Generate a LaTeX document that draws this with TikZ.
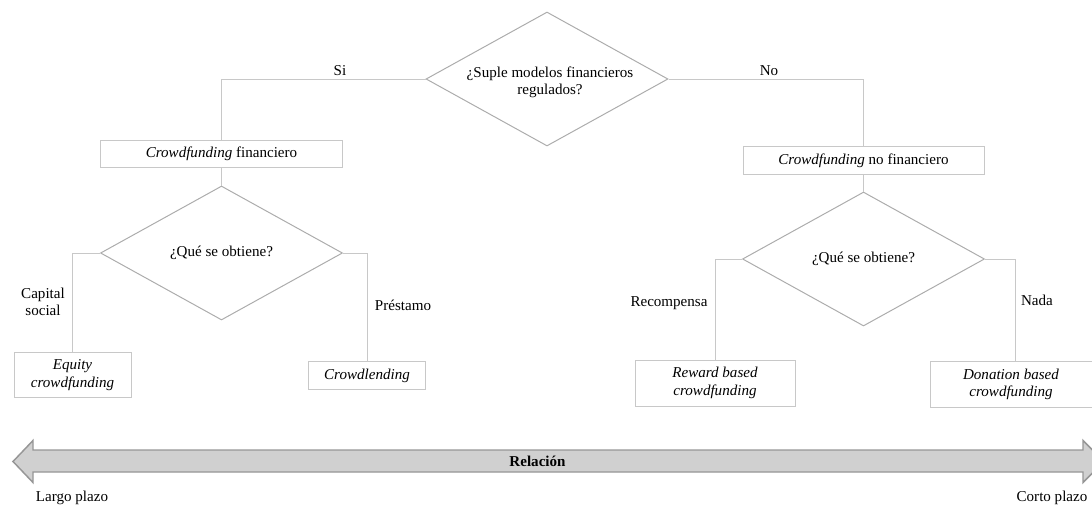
\documentclass[tikz,border=0pt]{standalone}
\usepackage{fontspec}
\setmainfont{Liberation Serif}
\usetikzlibrary{shapes.geometric}
\definecolor{edgegray}{RGB}{172,172,172}
\definecolor{boxgray}{RGB}{200,200,200}
\definecolor{arrowfill}{RGB}{208,208,208}
\definecolor{arrowedge}{RGB}{150,150,150}
\begin{document}
\begin{tikzpicture}[x=0.75pt,y=-0.75pt,
  font=\fontsize{11.3}{13}\selectfont,
  decision/.style={diamond, draw=edgegray, line width=0.75pt, aspect=1.8,
    inner sep=0pt, minimum width=181.5pt, minimum height=100.5pt, align=center},
  outcome/.style={rectangle, draw=boxgray, line width=0.75pt, inner sep=0pt,
    align=center},
  branch/.style={draw=boxgray, line width=0.75pt},
  tag/.style={inner sep=0pt, align=center},
  axisarrow/.style={draw=arrowedge, fill=arrowfill, line width=1.1pt, line join=miter}]

\useasboundingbox (0,0) rectangle (1092,504);
\clip (0,0) rectangle (1092,504);

% top question
\node[decision] (q1) at (547,79) {};
\node[tag] (q1text) at (550,82) {¿Suple modelos financieros\\regulados?};
\node[tag] (si) at (340,71) {Si};
\node[tag] (no) at (769,71) {No};

% financial branch
\node[outcome, minimum width=181.5pt, minimum height=20.25pt] (fin) at (221.5,153.5)
  {\textit{Crowdfunding} financiero};
\node[decision] (q2) at (221.5,253) {¿Qué se obtiene?};
\node[outcome, minimum width=87.75pt, minimum height=33.75pt] (equity) at (72.5,375)
  {\textit{Equity}\\\textit{crowdfunding}};
\node[outcome, minimum width=88.1pt, minimum height=20.7pt] (lend) at (367,375.5)
  {\textit{Crowdlending}};
\node[tag] (capital) at (43,302) {Capital\\social};
\node[tag] (prestamo) at (403,305) {Préstamo};

% non-financial branch
\node[outcome, minimum width=180.75pt, minimum height=20.7pt] (nofin) at (863.5,160.5)
  {\textit{Crowdfunding} no financiero};
\node[decision] (q3) at (863.5,259) {¿Qué se obtiene?};
\node[outcome, minimum width=120pt, minimum height=34.5pt] (reward) at (715,383)
  {\textit{Reward based}\\\textit{crowdfunding}};
\node[outcome, minimum width=121.5pt, minimum height=34.2pt] (donation) at (1011,384.5)
  {\textit{Donation based}\\\textit{crowdfunding}};
\node[tag] (recompensa) at (669,303) {Recompensa};
\node[tag] (nada) at (1037,300) {Nada};

% connectors
\draw[branch] (q1.west) -| (fin.north);
\draw[branch] (q1.east) -| (nofin.north);
\draw[branch] (fin.south) -- (q2.north);
\draw[branch] (nofin.south) -- (q3.north);
\draw[branch] (q2.west) -| (equity.north);
\draw[branch] (q2.east) -| (lend.north);
\draw[branch] (q3.west) -| (reward.north);
\draw[branch] (q3.east) -| ([xshift=3pt]donation.north);

% relationship axis
\draw[axisarrow] (13,461.5) -- (33,440.5) -- (33,450) -- (1083,450) -- (1083,440.5)
  -- (1104,461.5) -- (1083,482.5) -- (1083,472) -- (33,472) -- (33,482.5) -- cycle;
\node[tag, font=\fontsize{11.3}{13}\selectfont\bfseries] (rel) at (537.5,461) {Relación};
\node[tag, anchor=base] (largo) at (72,501) {Largo plazo};
\node[tag, anchor=base] (corto) at (1052,501) {Corto plazo};
\end{tikzpicture}
\end{document}
